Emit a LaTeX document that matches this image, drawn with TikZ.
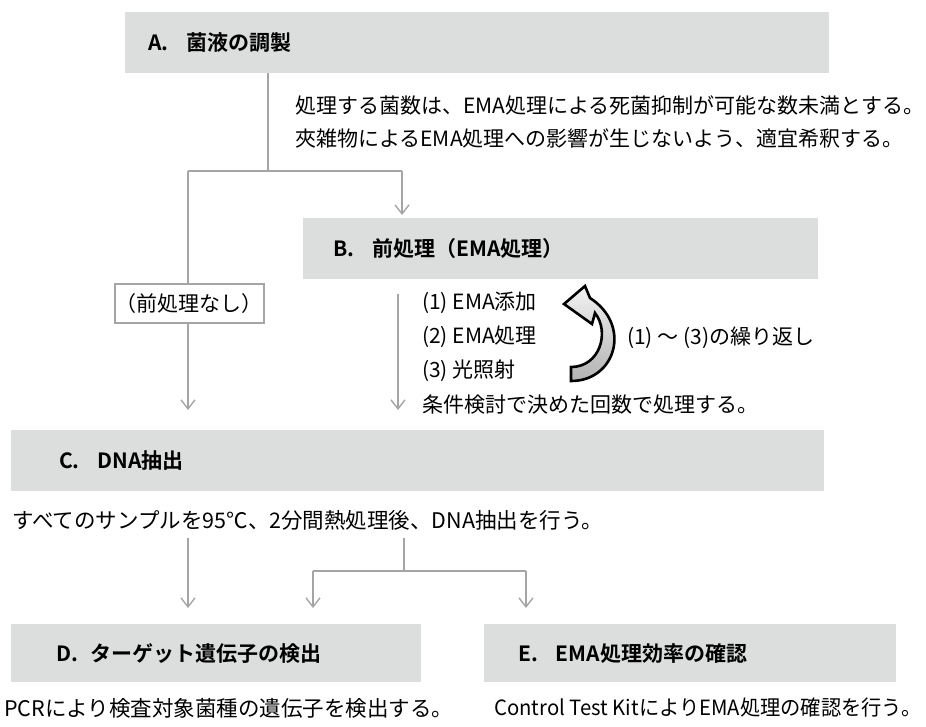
\documentclass[tikz,border=0pt]{standalone}
\usepackage{fontspec}
\setmainfont{Noto Sans CJK JP}[BoldFont={Noto Sans CJK JP Bold}]
\usetikzlibrary{arrows.meta}
\definecolor{boxgray}{RGB}{220,222,221}
\definecolor{linegray}{RGB}{165,165,165}
\begin{document}
\begin{tikzpicture}[x=1pt,y=-1pt,
  hbox/.style={fill=boxgray, draw=none, minimum height=61pt, inner sep=0pt, anchor=north west},
  htext/.style={font=\fontsize{21}{25}\selectfont\bfseries, anchor=west, inner sep=0pt},
  btext/.style={font=\fontsize{21}{25}\selectfont, anchor=west, inner sep=0pt},
  conn/.style={draw=linegray, line width=1.4pt},
  arr/.style={conn, -{Straight Barb[length=9pt,width=14pt]}},
  nobox/.style={draw=linegray, line width=2pt, fill=white, font=\fontsize{21}{25}\selectfont, inner sep=0pt, minimum width=149pt, minimum height=39pt}
]
\useasboundingbox (0,0) rectangle (926,726);
% A
\node[hbox, minimum width=704pt] (A) at (125,12) {};
\node[htext] (Alab) at ([xshift=23pt]A.west) {A.\hspace{18pt}菌液の調製};
\node[btext] (t1) at (295,105) {処理する菌数は、EMA処理による死菌抑制が可能な数未満とする。};
\node[btext] (t2) at (295,138) {夾雑物によるEMA処理への影響が生じないよう、適宜希釈する。};
\coordinate (s1) at (268,171);
\coordinate (bl) at (188,171);
\coordinate (br) at (402,171);
\draw[conn] (A.south west -| s1) -- (s1);
\draw[conn] (bl) -- (br);
% B
\node[hbox, minimum width=515pt] (B) at (303,218) {};
\node[htext] (Blab) at ([xshift=30pt]B.west) {B.\hspace{18pt}前処理（EMA処理）};
\draw[arr, shorten >=3pt] (br) -- (br |- B.north);
% no pretreatment
\node[nobox] (N) at (189,303.5) {（前処理なし）};
\draw[conn] (bl) -- (bl |- N.north);
\coordinate (na) at (188,410);
\draw[arr] (bl |- N.south) -- (na);
% steps
\coordinate (sa1) at (398,294);
\coordinate (sa2) at (398,410);
\draw[arr] (sa1) -- (sa2);
\node[btext] (p1) at (422,303) {(1) EMA添加};
\node[btext] (p2) at (422,337) {(2) EMA処理};
\node[btext] (p3) at (422,371) {(3) 光照射};
\node[btext] (p4) at (422,405) {条件検討で決めた回数で処理する。};
\node[btext] (rep) at (627,338) {(1) ～ (3)の繰り返し};
% curved arrow
\shade[top color=gray!10, bottom color=gray!60, draw=black, line width=2.6pt, line join=miter]
  (571,381) .. controls (616,381) and (632,325) .. (590,298)
  -- (585,286) -- (564,304) -- (592,324) -- (595,313)
  .. controls (610,332) and (600,367) .. (571,367) -- cycle;
% C
\node[hbox, minimum width=813pt] (C) at (11,430) {};
\node[htext] (Clab) at ([xshift=48pt]C.west) {C.\hspace{18pt}DNA抽出};
\node[btext, font=\fontsize{21.5}{25}\selectfont] (tc) at (12,520) {すべてのサンプルを95℃、2分間熱処理後、DNA抽出を行う。};
\coordinate (c1) at (188,538);
\coordinate (c2) at (404,538);
\coordinate (c3) at (404,571);
\coordinate (dl) at (313,571);
\coordinate (dr) at (526,571);
\coordinate (e1) at (188,608);
\coordinate (e2) at (313,608);
\coordinate (e3) at (526,608);
\draw[arr] (c1) -- (e1);
\draw[conn] (c2) -- (c3);
\draw[conn] (dl) -- (dr);
\draw[arr] (dl) -- (e2);
\draw[arr] (dr) -- (e3);
% D, E
\node[hbox, minimum width=410pt, minimum height=58pt] (D) at (11,624) {};
\node[htext] (Dlab) at ([xshift=45pt]D.west) {D.\hspace{12pt}ターゲット遺伝子の検出};
\node[hbox, minimum width=412pt, minimum height=58pt] (E) at (484,624) {};
\node[htext] (Elab) at ([xshift=34pt]E.west) {E.\hspace{18pt}EMA処理効率の確認};
\node[btext, font=\fontsize{21.5}{25}\selectfont] (td) at (4,708) {PCRにより検査対象菌種の遺伝子を検出する。};
\node[btext] (te) at (494,708) {\scalebox{0.965}[1]{Control Test KitによりEMA処理の確認を行う。}};
\end{tikzpicture}
\end{document}
